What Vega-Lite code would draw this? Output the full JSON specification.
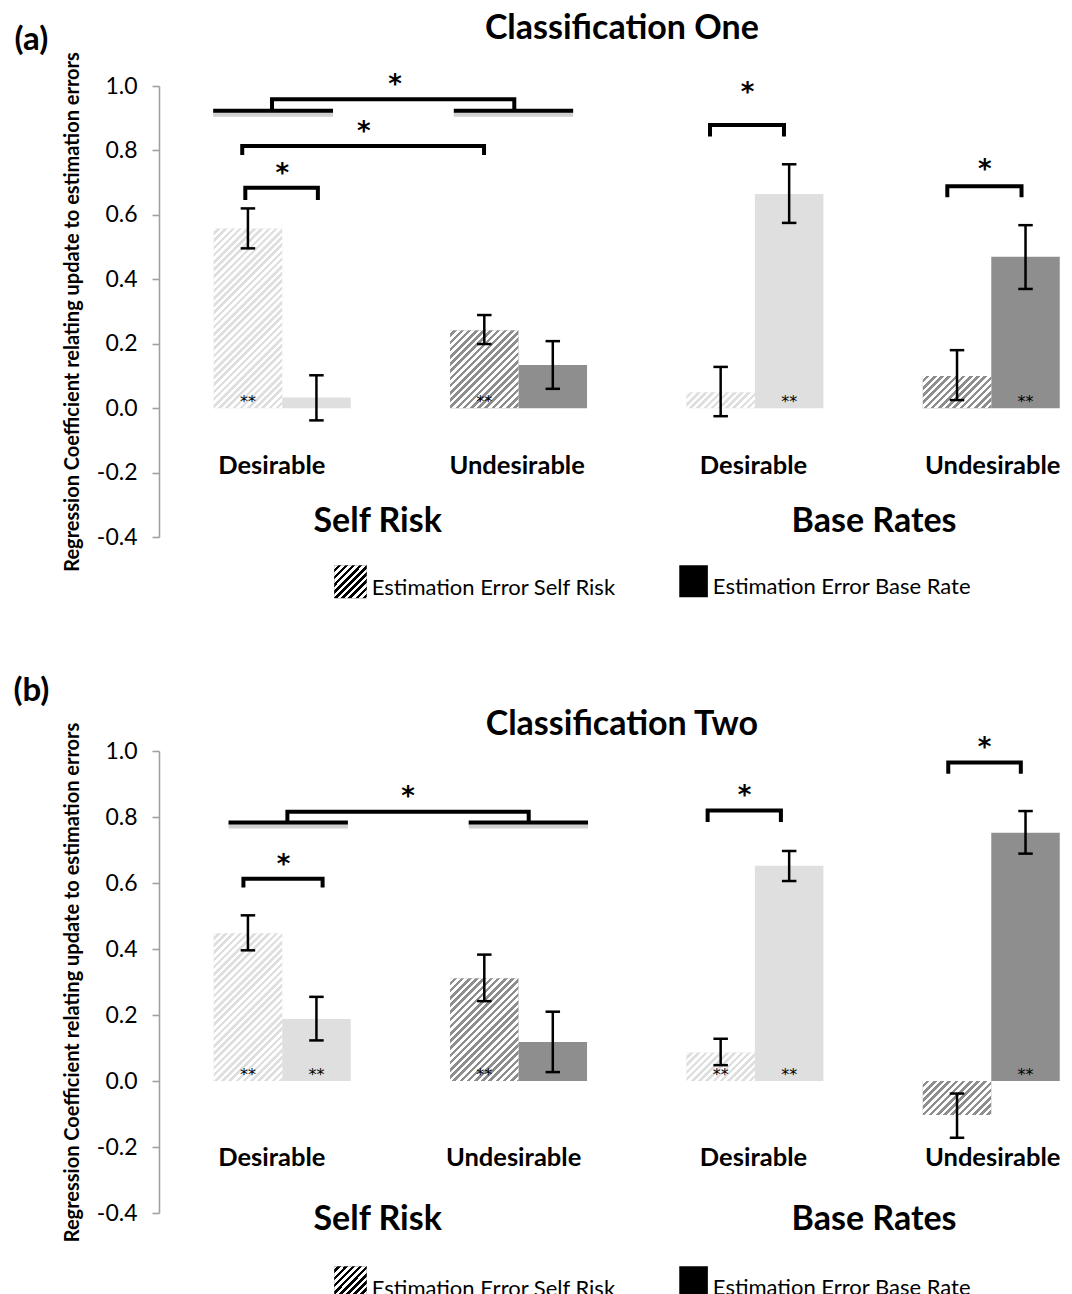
{
"$schema": "https://vega.github.io/schema/vega-lite/v6.json",
"padding": {"left": 13, "top": 11, "right": 0, "bottom": 0},
"spacing": 74,
"params": [{"name": "hatch", "value": [
{"offset":0,"color":"#fff"},{"offset":0.01,"color":"#fff"},{"offset":0.01,"color":"rgba(255,255,255,0)"},{"offset":0.02,"color":"rgba(255,255,255,0)"},
{"offset":0.02,"color":"#fff"},{"offset":0.03,"color":"#fff"},{"offset":0.03,"color":"rgba(255,255,255,0)"},{"offset":0.04,"color":"rgba(255,255,255,0)"},
{"offset":0.04,"color":"#fff"},{"offset":0.05,"color":"#fff"},{"offset":0.05,"color":"rgba(255,255,255,0)"},{"offset":0.06,"color":"rgba(255,255,255,0)"},
{"offset":0.06,"color":"#fff"},{"offset":0.07,"color":"#fff"},{"offset":0.07,"color":"rgba(255,255,255,0)"},{"offset":0.08,"color":"rgba(255,255,255,0)"},
{"offset":0.08,"color":"#fff"},{"offset":0.09,"color":"#fff"},{"offset":0.09,"color":"rgba(255,255,255,0)"},{"offset":0.1,"color":"rgba(255,255,255,0)"},
{"offset":0.1,"color":"#fff"},{"offset":0.11,"color":"#fff"},{"offset":0.11,"color":"rgba(255,255,255,0)"},{"offset":0.12,"color":"rgba(255,255,255,0)"},
{"offset":0.12,"color":"#fff"},{"offset":0.13,"color":"#fff"},{"offset":0.13,"color":"rgba(255,255,255,0)"},{"offset":0.14,"color":"rgba(255,255,255,0)"},
{"offset":0.14,"color":"#fff"},{"offset":0.15,"color":"#fff"},{"offset":0.15,"color":"rgba(255,255,255,0)"},{"offset":0.16,"color":"rgba(255,255,255,0)"},
{"offset":0.16,"color":"#fff"},{"offset":0.17,"color":"#fff"},{"offset":0.17,"color":"rgba(255,255,255,0)"},{"offset":0.18,"color":"rgba(255,255,255,0)"},
{"offset":0.18,"color":"#fff"},{"offset":0.19,"color":"#fff"},{"offset":0.19,"color":"rgba(255,255,255,0)"},{"offset":0.2,"color":"rgba(255,255,255,0)"},
{"offset":0.2,"color":"#fff"},{"offset":0.21,"color":"#fff"},{"offset":0.21,"color":"rgba(255,255,255,0)"},{"offset":0.22,"color":"rgba(255,255,255,0)"},
{"offset":0.22,"color":"#fff"},{"offset":0.23,"color":"#fff"},{"offset":0.23,"color":"rgba(255,255,255,0)"},{"offset":0.24,"color":"rgba(255,255,255,0)"},
{"offset":0.24,"color":"#fff"},{"offset":0.25,"color":"#fff"},{"offset":0.25,"color":"rgba(255,255,255,0)"},{"offset":0.26,"color":"rgba(255,255,255,0)"},
{"offset":0.26,"color":"#fff"},{"offset":0.27,"color":"#fff"},{"offset":0.27,"color":"rgba(255,255,255,0)"},{"offset":0.28,"color":"rgba(255,255,255,0)"},
{"offset":0.28,"color":"#fff"},{"offset":0.29,"color":"#fff"},{"offset":0.29,"color":"rgba(255,255,255,0)"},{"offset":0.3,"color":"rgba(255,255,255,0)"},
{"offset":0.3,"color":"#fff"},{"offset":0.31,"color":"#fff"},{"offset":0.31,"color":"rgba(255,255,255,0)"},{"offset":0.32,"color":"rgba(255,255,255,0)"},
{"offset":0.32,"color":"#fff"},{"offset":0.33,"color":"#fff"},{"offset":0.33,"color":"rgba(255,255,255,0)"},{"offset":0.34,"color":"rgba(255,255,255,0)"},
{"offset":0.34,"color":"#fff"},{"offset":0.35,"color":"#fff"},{"offset":0.35,"color":"rgba(255,255,255,0)"},{"offset":0.36,"color":"rgba(255,255,255,0)"},
{"offset":0.36,"color":"#fff"},{"offset":0.37,"color":"#fff"},{"offset":0.37,"color":"rgba(255,255,255,0)"},{"offset":0.38,"color":"rgba(255,255,255,0)"},
{"offset":0.38,"color":"#fff"},{"offset":0.39,"color":"#fff"},{"offset":0.39,"color":"rgba(255,255,255,0)"},{"offset":0.4,"color":"rgba(255,255,255,0)"},
{"offset":0.4,"color":"#fff"},{"offset":0.41,"color":"#fff"},{"offset":0.41,"color":"rgba(255,255,255,0)"},{"offset":0.42,"color":"rgba(255,255,255,0)"},
{"offset":0.42,"color":"#fff"},{"offset":0.43,"color":"#fff"},{"offset":0.43,"color":"rgba(255,255,255,0)"},{"offset":0.44,"color":"rgba(255,255,255,0)"},
{"offset":0.44,"color":"#fff"},{"offset":0.45,"color":"#fff"},{"offset":0.45,"color":"rgba(255,255,255,0)"},{"offset":0.46,"color":"rgba(255,255,255,0)"},
{"offset":0.46,"color":"#fff"},{"offset":0.47,"color":"#fff"},{"offset":0.47,"color":"rgba(255,255,255,0)"},{"offset":0.48,"color":"rgba(255,255,255,0)"},
{"offset":0.48,"color":"#fff"},{"offset":0.49,"color":"#fff"},{"offset":0.49,"color":"rgba(255,255,255,0)"},{"offset":0.5,"color":"rgba(255,255,255,0)"},
{"offset":0.5,"color":"#fff"},{"offset":0.51,"color":"#fff"},{"offset":0.51,"color":"rgba(255,255,255,0)"},{"offset":0.52,"color":"rgba(255,255,255,0)"},
{"offset":0.52,"color":"#fff"},{"offset":0.53,"color":"#fff"},{"offset":0.53,"color":"rgba(255,255,255,0)"},{"offset":0.54,"color":"rgba(255,255,255,0)"},
{"offset":0.54,"color":"#fff"},{"offset":0.55,"color":"#fff"},{"offset":0.55,"color":"rgba(255,255,255,0)"},{"offset":0.56,"color":"rgba(255,255,255,0)"},
{"offset":0.56,"color":"#fff"},{"offset":0.57,"color":"#fff"},{"offset":0.57,"color":"rgba(255,255,255,0)"},{"offset":0.58,"color":"rgba(255,255,255,0)"},
{"offset":0.58,"color":"#fff"},{"offset":0.59,"color":"#fff"},{"offset":0.59,"color":"rgba(255,255,255,0)"},{"offset":0.6,"color":"rgba(255,255,255,0)"},
{"offset":0.6,"color":"#fff"},{"offset":0.61,"color":"#fff"},{"offset":0.61,"color":"rgba(255,255,255,0)"},{"offset":0.62,"color":"rgba(255,255,255,0)"},
{"offset":0.62,"color":"#fff"},{"offset":0.63,"color":"#fff"},{"offset":0.63,"color":"rgba(255,255,255,0)"},{"offset":0.64,"color":"rgba(255,255,255,0)"},
{"offset":0.64,"color":"#fff"},{"offset":0.65,"color":"#fff"},{"offset":0.65,"color":"rgba(255,255,255,0)"},{"offset":0.66,"color":"rgba(255,255,255,0)"},
{"offset":0.66,"color":"#fff"},{"offset":0.67,"color":"#fff"},{"offset":0.67,"color":"rgba(255,255,255,0)"},{"offset":0.68,"color":"rgba(255,255,255,0)"},
{"offset":0.68,"color":"#fff"},{"offset":0.69,"color":"#fff"},{"offset":0.69,"color":"rgba(255,255,255,0)"},{"offset":0.7,"color":"rgba(255,255,255,0)"},
{"offset":0.7,"color":"#fff"},{"offset":0.71,"color":"#fff"},{"offset":0.71,"color":"rgba(255,255,255,0)"},{"offset":0.72,"color":"rgba(255,255,255,0)"},
{"offset":0.72,"color":"#fff"},{"offset":0.73,"color":"#fff"},{"offset":0.73,"color":"rgba(255,255,255,0)"},{"offset":0.74,"color":"rgba(255,255,255,0)"},
{"offset":0.74,"color":"#fff"},{"offset":0.75,"color":"#fff"},{"offset":0.75,"color":"rgba(255,255,255,0)"},{"offset":0.76,"color":"rgba(255,255,255,0)"},
{"offset":0.76,"color":"#fff"},{"offset":0.77,"color":"#fff"},{"offset":0.77,"color":"rgba(255,255,255,0)"},{"offset":0.78,"color":"rgba(255,255,255,0)"},
{"offset":0.78,"color":"#fff"},{"offset":0.79,"color":"#fff"},{"offset":0.79,"color":"rgba(255,255,255,0)"},{"offset":0.8,"color":"rgba(255,255,255,0)"},
{"offset":0.8,"color":"#fff"},{"offset":0.81,"color":"#fff"},{"offset":0.81,"color":"rgba(255,255,255,0)"},{"offset":0.82,"color":"rgba(255,255,255,0)"},
{"offset":0.82,"color":"#fff"},{"offset":0.83,"color":"#fff"},{"offset":0.83,"color":"rgba(255,255,255,0)"},{"offset":0.84,"color":"rgba(255,255,255,0)"},
{"offset":0.84,"color":"#fff"},{"offset":0.85,"color":"#fff"},{"offset":0.85,"color":"rgba(255,255,255,0)"},{"offset":0.86,"color":"rgba(255,255,255,0)"},
{"offset":0.86,"color":"#fff"},{"offset":0.87,"color":"#fff"},{"offset":0.87,"color":"rgba(255,255,255,0)"},{"offset":0.88,"color":"rgba(255,255,255,0)"},
{"offset":0.88,"color":"#fff"},{"offset":0.89,"color":"#fff"},{"offset":0.89,"color":"rgba(255,255,255,0)"},{"offset":0.9,"color":"rgba(255,255,255,0)"},
{"offset":0.9,"color":"#fff"},{"offset":0.91,"color":"#fff"},{"offset":0.91,"color":"rgba(255,255,255,0)"},{"offset":0.92,"color":"rgba(255,255,255,0)"},
{"offset":0.92,"color":"#fff"},{"offset":0.93,"color":"#fff"},{"offset":0.93,"color":"rgba(255,255,255,0)"},{"offset":0.94,"color":"rgba(255,255,255,0)"},
{"offset":0.94,"color":"#fff"},{"offset":0.95,"color":"#fff"},{"offset":0.95,"color":"rgba(255,255,255,0)"},{"offset":0.96,"color":"rgba(255,255,255,0)"},
{"offset":0.96,"color":"#fff"},{"offset":0.97,"color":"#fff"},{"offset":0.97,"color":"rgba(255,255,255,0)"},{"offset":0.98,"color":"rgba(255,255,255,0)"},
{"offset":0.98,"color":"#fff"},{"offset":0.99,"color":"#fff"},{"offset":0.99,"color":"rgba(255,255,255,0)"},{"offset":1,"color":"rgba(255,255,255,0)"}
]}],
"datasets": {
"bars": [
{"panel":"a","idx":0,"group":"Self Risk","cond":"Desirable","est":"Self Risk","value":0.558,"lo":0.496,"hi":0.62,"sig":"**"},
{"panel":"a","idx":0,"group":"Self Risk","cond":"Desirable","est":"Base Rate","value":0.033,"lo":-0.038,"hi":0.102,"sig":""},
{"panel":"a","idx":1,"group":"Self Risk","cond":"Undesirable","est":"Self Risk","value":0.242,"lo":0.199,"hi":0.289,"sig":"**"},
{"panel":"a","idx":1,"group":"Self Risk","cond":"Undesirable","est":"Base Rate","value":0.134,"lo":0.06,"hi":0.208,"sig":""},
{"panel":"a","idx":2,"group":"Base Rates","cond":"Desirable","est":"Self Risk","value":0.049,"lo":-0.025,"hi":0.128,"sig":""},
{"panel":"a","idx":2,"group":"Base Rates","cond":"Desirable","est":"Base Rate","value":0.665,"lo":0.575,"hi":0.757,"sig":"**"},
{"panel":"a","idx":3,"group":"Base Rates","cond":"Undesirable","est":"Self Risk","value":0.1,"lo":0.025,"hi":0.18,"sig":""},
{"panel":"a","idx":3,"group":"Base Rates","cond":"Undesirable","est":"Base Rate","value":0.47,"lo":0.37,"hi":0.568,"sig":"**"},
{"panel":"b","idx":0,"group":"Self Risk","cond":"Desirable","est":"Self Risk","value":0.448,"lo":0.396,"hi":0.502,"sig":"**"},
{"panel":"b","idx":0,"group":"Self Risk","cond":"Desirable","est":"Base Rate","value":0.188,"lo":0.123,"hi":0.255,"sig":"**"},
{"panel":"b","idx":1,"group":"Self Risk","cond":"Undesirable","est":"Self Risk","value":0.311,"lo":0.242,"hi":0.383,"sig":"**"},
{"panel":"b","idx":1,"group":"Self Risk","cond":"Undesirable","est":"Base Rate","value":0.118,"lo":0.027,"hi":0.21,"sig":""},
{"panel":"b","idx":2,"group":"Base Rates","cond":"Desirable","est":"Self Risk","value":0.086,"lo":0.048,"hi":0.128,"sig":"**"},
{"panel":"b","idx":2,"group":"Base Rates","cond":"Desirable","est":"Base Rate","value":0.652,"lo":0.606,"hi":0.697,"sig":"**"},
{"panel":"b","idx":3,"group":"Base Rates","cond":"Undesirable","est":"Self Risk","value":-0.103,"lo":-0.172,"hi":-0.038,"sig":""},
{"panel":"b","idx":3,"group":"Base Rates","cond":"Undesirable","est":"Base Rate","value":0.752,"lo":0.689,"hi":0.818,"sig":"**"}
],
"brackets": [
{"panel":"a","bid":"a1","ord":1,"bx":-0.043,"by":0.923},{"panel":"a","bid":"a1","ord":2,"bx":-0.043,"by":0.959},{"panel":"a","bid":"a1","ord":3,"bx":0.982,"by":0.959},{"panel":"a","bid":"a1","ord":4,"bx":0.982,"by":0.923},
{"panel":"a","bid":"a1L","ord":1,"bx":-0.292,"by":0.923},{"panel":"a","bid":"a1L","ord":2,"bx":0.215,"by":0.923},
{"panel":"a","bid":"a1R","ord":1,"bx":0.726,"by":0.923},{"panel":"a","bid":"a1R","ord":2,"bx":1.231,"by":0.923},
{"panel":"a","bid":"a2","ord":1,"bx":-0.169,"by":0.786},{"panel":"a","bid":"a2","ord":2,"bx":-0.169,"by":0.814},{"panel":"a","bid":"a2","ord":3,"bx":0.854,"by":0.814},{"panel":"a","bid":"a2","ord":4,"bx":0.854,"by":0.786},
{"panel":"a","bid":"a3","ord":1,"bx":-0.156,"by":0.646},{"panel":"a","bid":"a3","ord":2,"bx":-0.156,"by":0.684},{"panel":"a","bid":"a3","ord":3,"bx":0.151,"by":0.684},{"panel":"a","bid":"a3","ord":4,"bx":0.151,"by":0.646},
{"panel":"a","bid":"a4","ord":1,"bx":1.81,"by":0.843},{"panel":"a","bid":"a4","ord":2,"bx":1.81,"by":0.879},{"panel":"a","bid":"a4","ord":3,"bx":2.123,"by":0.879},{"panel":"a","bid":"a4","ord":4,"bx":2.123,"by":0.843},
{"panel":"a","bid":"a5","ord":1,"bx":2.814,"by":0.655},{"panel":"a","bid":"a5","ord":2,"bx":2.814,"by":0.689},{"panel":"a","bid":"a5","ord":3,"bx":3.128,"by":0.689},{"panel":"a","bid":"a5","ord":4,"bx":3.128,"by":0.655},
{"panel":"b","bid":"b1","ord":1,"bx":0.022,"by":0.783},{"panel":"b","bid":"b1","ord":2,"bx":0.022,"by":0.816},{"panel":"b","bid":"b1","ord":3,"bx":1.043,"by":0.816},{"panel":"b","bid":"b1","ord":4,"bx":1.043,"by":0.783},
{"panel":"b","bid":"b1L","ord":1,"bx":-0.227,"by":0.783},{"panel":"b","bid":"b1L","ord":2,"bx":0.278,"by":0.783},
{"panel":"b","bid":"b1R","ord":1,"bx":0.789,"by":0.783},{"panel":"b","bid":"b1R","ord":2,"bx":1.294,"by":0.783},
{"panel":"b","bid":"b2","ord":1,"bx":-0.164,"by":0.586},{"panel":"b","bid":"b2","ord":2,"bx":-0.164,"by":0.613},{"panel":"b","bid":"b2","ord":3,"bx":0.171,"by":0.613},{"panel":"b","bid":"b2","ord":4,"bx":0.171,"by":0.586},
{"panel":"b","bid":"b3","ord":1,"bx":1.8,"by":0.785},{"panel":"b","bid":"b3","ord":2,"bx":1.8,"by":0.82},{"panel":"b","bid":"b3","ord":3,"bx":2.11,"by":0.82},{"panel":"b","bid":"b3","ord":4,"bx":2.11,"by":0.785},
{"panel":"b","bid":"b4","ord":1,"bx":2.818,"by":0.931},{"panel":"b","bid":"b4","ord":2,"bx":2.818,"by":0.965},{"panel":"b","bid":"b4","ord":3,"bx":3.125,"by":0.965},{"panel":"b","bid":"b4","ord":4,"bx":3.125,"by":0.931}
],
"stars": [
{"panel":"a","sx":0.478,"sy":1.024},{"panel":"a","sx":0.345,"sy":0.879},{"panel":"a","sx":0.001,"sy":0.749},{"panel":"a","sx":1.969,"sy":1.0},{"panel":"a","sx":2.973,"sy":0.761},
{"panel":"b","sx":0.533,"sy":0.881},{"panel":"b","sx":0.006,"sy":0.677},{"panel":"b","sx":1.956,"sy":0.885},{"panel":"b","sx":2.972,"sy":1.03}
],
"labels": [
{"panel":"a","text":"Classification One","kind":"title","lx":1.437,"ly":1.177},
{"panel":"a","text":"(a)","kind":"panel","lx":-1.061,"ly":1.143},
{"panel":"a","text":"Desirable","kind":"cat","lx":-0.044,"ly":-0.18},
{"panel":"a","text":"Undesirable","kind":"cat","lx":0.994,"ly":-0.18},
{"panel":"a","text":"Desirable","kind":"cat","lx":1.994,"ly":-0.18},
{"panel":"a","text":"Undesirable","kind":"cat","lx":3.006,"ly":-0.18},
{"panel":"a","text":"Self Risk","kind":"group","lx":0.404,"ly":-0.352},
{"panel":"a","text":"Base Rates","kind":"group","lx":2.504,"ly":-0.352},
{"panel":"b","text":"Classification Two","kind":"title","lx":1.437,"ly":1.08},
{"panel":"b","text":"(b)","kind":"panel","lx":-1.061,"ly":1.182},
{"panel":"b","text":"Desirable","kind":"cat","lx":-0.044,"ly":-0.232},
{"panel":"b","text":"Undesirable","kind":"cat","lx":0.979,"ly":-0.232},
{"panel":"b","text":"Desirable","kind":"cat","lx":1.994,"ly":-0.232},
{"panel":"b","text":"Undesirable","kind":"cat","lx":3.006,"ly":-0.232},
{"panel":"b","text":"Self Risk","kind":"group","lx":0.404,"ly":-0.421},
{"panel":"b","text":"Base Rates","kind":"group","lx":2.504,"ly":-0.421}
],
"legend": [
{"panel":"a","label":"Estimation Error Self Risk","kind":"hatched","x0":0.22,"x1":0.358,"y0":-0.488,"y1":-0.59},
{"panel":"a","label":"Estimation Error Base Rate","kind":"solid","x0":1.68,"x1":1.801,"y0":-0.488,"y1":-0.587},
{"panel":"b","label":"Estimation Error Self Risk","kind":"hatched","x0":0.22,"x1":0.358,"y0":-0.561,"y1":-0.661},
{"panel":"b","label":"Estimation Error Base Rate","kind":"solid","x0":1.68,"x1":1.801,"y0":-0.561,"y1":-0.658}
]
},
"config": {
"view": {"stroke": null},
"font": "Lato",
"text": {"font": "Lato", "color": "#000"},
"rule": {"color": "#000"},
"line": {"color": "#000"}
},
"resolve": {"scale": {"x": "independent", "y": "independent", "color": "independent"}},
"vconcat": [
{
"width": 907, "height": 451,
"layer": [
{"data": {"name": "bars"}, "transform": [{"filter": "datum.panel == 'a'"}],
 "mark": {"type": "bar", "width": 68.5, "xOffset": {"expr": "datum.est == 'Self Risk' ? -34.25 : 34.25"}},
 "encoding": {
  "x": {"field": "idx", "type": "quantitative", "scale": {"domain": [-0.5, 3.295], "nice": false, "zero": false}, "axis": null},
  "y": {"field": "value", "type": "quantitative", "scale": {"domain": [-0.4, 1], "nice": false, "zero": false}, "title": "Regression Coefficient relating update to estimation errors",
   "axis": {"title": "Regression Coefficient relating update to estimation errors", "values": [-0.4, -0.2, 0, 0.2, 0.4, 0.6, 0.8, 1], "labelExpr": "replace(format(datum.value, '.1f'), '−', '-')", "grid": false, "domainColor": "#a0a0a0", "domainWidth": 1.6, "tickColor": "#a0a0a0", "tickWidth": 1.6, "tickSize": 7, "labelFont": "Lato", "labelFontSize": 23, "labelColor": "#000", "labelPadding": 15, "titleFont": "Lato", "titleFontSize": 20, "titleFontWeight": "bold", "titleColor": "#000", "titlePadding": 14}},
  "y2": {"datum": 0},
  "color": {"field": "cond", "type": "nominal", "scale": {"domain": ["Desirable", "Undesirable"], "range": ["#dfdfdf", "#8e8e8e"]}, "legend": null}
 }},
{"data": {"name": "bars"}, "transform": [{"filter": "datum.panel == 'a' && datum.est == 'Self Risk'"}],
 "mark": {"type": "bar", "width": 68.5, "xOffset": -34.25, "fill": {"expr": "{gradient: 'linear', x1: 0, y1: 0, x2: 360*68.5/(68.5*68.5 + pow(abs(datum.value)*322.1, 2)), y2: 360*abs(datum.value)*322.1/(68.5*68.5 + pow(abs(datum.value)*322.1, 2)), stops: hatch}"}},
 "encoding": {
  "x": {"field": "idx", "type": "quantitative", "scale": {"domain": [-0.5, 3.295], "nice": false, "zero": false}, "axis": null},
  "y": {"field": "value", "type": "quantitative", "scale": {"domain": [-0.4, 1], "nice": false, "zero": false}, "title": "Regression Coefficient relating update to estimation errors"},
  "y2": {"datum": 0}
 }},
{"data": {"name": "bars"}, "transform": [{"filter": "datum.panel == 'a'"}],
 "mark": {"type": "rule", "strokeWidth": 2.5, "xOffset": {"expr": "datum.est == 'Self Risk' ? -34.25 : 34.25"}},
 "encoding": {
  "x": {"field": "idx", "type": "quantitative", "scale": {"domain": [-0.5, 3.295], "nice": false, "zero": false}, "axis": null},
  "y": {"field": "lo", "type": "quantitative", "scale": {"domain": [-0.4, 1], "nice": false, "zero": false}, "title": "Regression Coefficient relating update to estimation errors"},
  "y2": {"field": "hi"}
 }},
{"data": {"name": "bars"}, "transform": [{"filter": "datum.panel == 'a'"}, {"fold": ["lo", "hi"], "as": ["end", "capv"]}],
 "mark": {"type": "rule", "strokeWidth": 2.5, "xOffset": {"expr": "datum.est == 'Self Risk' ? -41.5 : 27"}, "x2Offset": {"expr": "datum.est == 'Self Risk' ? -27 : 41.5"}},
 "encoding": {
  "x": {"field": "idx", "type": "quantitative", "scale": {"domain": [-0.5, 3.295], "nice": false, "zero": false}, "axis": null},
  "x2": {"field": "idx"},
  "y": {"field": "capv", "type": "quantitative", "scale": {"domain": [-0.4, 1], "nice": false, "zero": false}, "title": "Regression Coefficient relating update to estimation errors"}
 }},
{"data": {"name": "bars"}, "transform": [{"filter": "datum.panel == 'a' && datum.sig != ''"}],
 "mark": {"type": "text", "font": "DejaVu Sans", "fontSize": 16, "baseline": "alphabetic", "dy": -1, "xOffset": {"expr": "datum.est == 'Self Risk' ? -34.25 : 34.25"}},
 "encoding": {
  "x": {"field": "idx", "type": "quantitative", "scale": {"domain": [-0.5, 3.295], "nice": false, "zero": false}, "axis": null},
  "y": {"datum": 0, "type": "quantitative", "scale": {"domain": [-0.4, 1], "nice": false, "zero": false}, "title": "Regression Coefficient relating update to estimation errors"},
  "text": {"field": "sig"}
 }},
{"data": {"name": "brackets"}, "transform": [{"filter": "datum.panel == 'a' && (datum.bid == 'a1L' || datum.bid == 'a1R')"}],
 "mark": {"type": "line", "color": "#c4c4c4", "strokeWidth": 5, "yOffset": 3.5, "opacity": 0.8},
 "encoding": {
  "x": {"field": "bx", "type": "quantitative", "scale": {"domain": [-0.5, 3.295], "nice": false, "zero": false}, "axis": null},
  "y": {"field": "by", "type": "quantitative", "scale": {"domain": [-0.4, 1], "nice": false, "zero": false}, "title": "Regression Coefficient relating update to estimation errors"},
  "detail": {"field": "bid"}, "order": {"field": "ord"}
 }},
{"data": {"name": "brackets"}, "transform": [{"filter": "datum.panel == 'a'"}],
 "mark": {"type": "line", "color": "#000", "strokeWidth": 4, "strokeJoin": "miter", "strokeCap": "butt"},
 "encoding": {
  "x": {"field": "bx", "type": "quantitative", "scale": {"domain": [-0.5, 3.295], "nice": false, "zero": false}, "axis": null},
  "y": {"field": "by", "type": "quantitative", "scale": {"domain": [-0.4, 1], "nice": false, "zero": false}, "title": "Regression Coefficient relating update to estimation errors"},
  "detail": {"field": "bid"}, "order": {"field": "ord"}
 }},
{"data": {"name": "stars"}, "transform": [{"filter": "datum.panel == 'a'"}],
 "mark": {"type": "text", "text": "*", "font": "DejaVu Sans", "fontSize": 26, "fontWeight": "bold", "baseline": "middle", "dy": 7},
 "encoding": {
  "x": {"field": "sx", "type": "quantitative", "scale": {"domain": [-0.5, 3.295], "nice": false, "zero": false}, "axis": null},
  "y": {"field": "sy", "type": "quantitative", "scale": {"domain": [-0.4, 1], "nice": false, "zero": false}, "title": "Regression Coefficient relating update to estimation errors"}
 }},
{"data": {"name": "labels"}, "transform": [{"filter": "datum.panel == 'a'"}],
 "mark": {"type": "text", "fontWeight": "bold", "baseline": "middle", "align": "center", "fontSize": {"expr": "datum.kind == 'title' ? 34 : datum.kind == 'group' ? 34 : datum.kind == 'panel' ? 33 : 25.5"}},
 "encoding": {
  "x": {"field": "lx", "type": "quantitative", "scale": {"domain": [-0.5, 3.295], "nice": false, "zero": false}, "axis": null},
  "y": {"field": "ly", "type": "quantitative", "scale": {"domain": [-0.4, 1], "nice": false, "zero": false}, "title": "Regression Coefficient relating update to estimation errors"},
  "text": {"field": "text"}
 }},
{"data": {"name": "legend"}, "transform": [{"filter": "datum.panel == 'a'"}],
 "mark": {"type": "rect", "color": "#000"},
 "encoding": {
  "x": {"field": "x0", "type": "quantitative", "scale": {"domain": [-0.5, 3.295], "nice": false, "zero": false}, "axis": null},
  "x2": {"field": "x1"},
  "y": {"field": "y0", "type": "quantitative", "scale": {"domain": [-0.4, 1], "nice": false, "zero": false}, "title": "Regression Coefficient relating update to estimation errors"},
  "y2": {"field": "y1"}
 }},
{"data": {"name": "legend"}, "transform": [{"filter": "datum.panel == 'a' && datum.kind == 'hatched'"}],
 "mark": {"type": "rect", "fill": {"expr": "{gradient: 'linear', x1: 0, y1: 0, x2: 5.45, y2: 5.45, stops: hatch}"}},
 "encoding": {
  "x": {"field": "x0", "type": "quantitative", "scale": {"domain": [-0.5, 3.295], "nice": false, "zero": false}, "axis": null},
  "x2": {"field": "x1"},
  "y": {"field": "y0", "type": "quantitative", "scale": {"domain": [-0.4, 1], "nice": false, "zero": false}, "title": "Regression Coefficient relating update to estimation errors"},
  "y2": {"field": "y1"}
 }},
{"data": {"name": "legend"}, "transform": [{"filter": "datum.panel == 'a'"}],
 "mark": {"type": "text", "align": "left", "baseline": "alphabetic", "dx": 5, "dy": -3, "fontSize": 22},
 "encoding": {
  "x": {"field": "x1", "type": "quantitative", "scale": {"domain": [-0.5, 3.295], "nice": false, "zero": false}, "axis": null},
  "y": {"field": "y1", "type": "quantitative", "scale": {"domain": [-0.4, 1], "nice": false, "zero": false}, "title": "Regression Coefficient relating update to estimation errors"},
  "text": {"field": "label"}
 }}
]
},
{
"width": 907, "height": 462,
"layer": [
{"data": {"name": "bars"}, "transform": [{"filter": "datum.panel == 'b'"}],
 "mark": {"type": "bar", "width": 68.5, "xOffset": {"expr": "datum.est == 'Self Risk' ? -34.25 : 34.25"}},
 "encoding": {
  "x": {"field": "idx", "type": "quantitative", "scale": {"domain": [-0.5, 3.295], "nice": false, "zero": false}, "axis": null},
  "y": {"field": "value", "type": "quantitative", "scale": {"domain": [-0.4, 1], "nice": false, "zero": false}, "title": "Regression Coefficient relating update to estimation errors",
   "axis": {"title": "Regression Coefficient relating update to estimation errors", "values": [-0.4, -0.2, 0, 0.2, 0.4, 0.6, 0.8, 1], "labelExpr": "replace(format(datum.value, '.1f'), '−', '-')", "grid": false, "domainColor": "#a0a0a0", "domainWidth": 1.6, "tickColor": "#a0a0a0", "tickWidth": 1.6, "tickSize": 7, "labelFont": "Lato", "labelFontSize": 23, "labelColor": "#000", "labelPadding": 15, "titleFont": "Lato", "titleFontSize": 20, "titleFontWeight": "bold", "titleColor": "#000", "titlePadding": 14}},
  "y2": {"datum": 0},
  "color": {"field": "cond", "type": "nominal", "scale": {"domain": ["Desirable", "Undesirable"], "range": ["#dfdfdf", "#8e8e8e"]}, "legend": null}
 }},
{"data": {"name": "bars"}, "transform": [{"filter": "datum.panel == 'b' && datum.est == 'Self Risk'"}],
 "mark": {"type": "bar", "width": 68.5, "xOffset": -34.25, "fill": {"expr": "{gradient: 'linear', x1: 0, y1: 0, x2: 360*68.5/(68.5*68.5 + pow(abs(datum.value)*330, 2)), y2: 360*abs(datum.value)*330/(68.5*68.5 + pow(abs(datum.value)*330, 2)), stops: hatch}"}},
 "encoding": {
  "x": {"field": "idx", "type": "quantitative", "scale": {"domain": [-0.5, 3.295], "nice": false, "zero": false}, "axis": null},
  "y": {"field": "value", "type": "quantitative", "scale": {"domain": [-0.4, 1], "nice": false, "zero": false}, "title": "Regression Coefficient relating update to estimation errors"},
  "y2": {"datum": 0}
 }},
{"data": {"name": "bars"}, "transform": [{"filter": "datum.panel == 'b'"}],
 "mark": {"type": "rule", "strokeWidth": 2.5, "xOffset": {"expr": "datum.est == 'Self Risk' ? -34.25 : 34.25"}},
 "encoding": {
  "x": {"field": "idx", "type": "quantitative", "scale": {"domain": [-0.5, 3.295], "nice": false, "zero": false}, "axis": null},
  "y": {"field": "lo", "type": "quantitative", "scale": {"domain": [-0.4, 1], "nice": false, "zero": false}, "title": "Regression Coefficient relating update to estimation errors"},
  "y2": {"field": "hi"}
 }},
{"data": {"name": "bars"}, "transform": [{"filter": "datum.panel == 'b'"}, {"fold": ["lo", "hi"], "as": ["end", "capv"]}],
 "mark": {"type": "rule", "strokeWidth": 2.5, "xOffset": {"expr": "datum.est == 'Self Risk' ? -41.5 : 27"}, "x2Offset": {"expr": "datum.est == 'Self Risk' ? -27 : 41.5"}},
 "encoding": {
  "x": {"field": "idx", "type": "quantitative", "scale": {"domain": [-0.5, 3.295], "nice": false, "zero": false}, "axis": null},
  "x2": {"field": "idx"},
  "y": {"field": "capv", "type": "quantitative", "scale": {"domain": [-0.4, 1], "nice": false, "zero": false}, "title": "Regression Coefficient relating update to estimation errors"}
 }},
{"data": {"name": "bars"}, "transform": [{"filter": "datum.panel == 'b' && datum.sig != ''"}],
 "mark": {"type": "text", "font": "DejaVu Sans", "fontSize": 16, "baseline": "alphabetic", "dy": -1, "xOffset": {"expr": "datum.est == 'Self Risk' ? -34.25 : 34.25"}},
 "encoding": {
  "x": {"field": "idx", "type": "quantitative", "scale": {"domain": [-0.5, 3.295], "nice": false, "zero": false}, "axis": null},
  "y": {"datum": 0, "type": "quantitative", "scale": {"domain": [-0.4, 1], "nice": false, "zero": false}, "title": "Regression Coefficient relating update to estimation errors"},
  "text": {"field": "sig"}
 }},
{"data": {"name": "brackets"}, "transform": [{"filter": "datum.panel == 'b' && (datum.bid == 'b1L' || datum.bid == 'b1R')"}],
 "mark": {"type": "line", "color": "#c4c4c4", "strokeWidth": 5, "yOffset": 3.5, "opacity": 0.8},
 "encoding": {
  "x": {"field": "bx", "type": "quantitative", "scale": {"domain": [-0.5, 3.295], "nice": false, "zero": false}, "axis": null},
  "y": {"field": "by", "type": "quantitative", "scale": {"domain": [-0.4, 1], "nice": false, "zero": false}, "title": "Regression Coefficient relating update to estimation errors"},
  "detail": {"field": "bid"}, "order": {"field": "ord"}
 }},
{"data": {"name": "brackets"}, "transform": [{"filter": "datum.panel == 'b'"}],
 "mark": {"type": "line", "color": "#000", "strokeWidth": 4, "strokeJoin": "miter", "strokeCap": "butt"},
 "encoding": {
  "x": {"field": "bx", "type": "quantitative", "scale": {"domain": [-0.5, 3.295], "nice": false, "zero": false}, "axis": null},
  "y": {"field": "by", "type": "quantitative", "scale": {"domain": [-0.4, 1], "nice": false, "zero": false}, "title": "Regression Coefficient relating update to estimation errors"},
  "detail": {"field": "bid"}, "order": {"field": "ord"}
 }},
{"data": {"name": "stars"}, "transform": [{"filter": "datum.panel == 'b'"}],
 "mark": {"type": "text", "text": "*", "font": "DejaVu Sans", "fontSize": 26, "fontWeight": "bold", "baseline": "middle", "dy": 7},
 "encoding": {
  "x": {"field": "sx", "type": "quantitative", "scale": {"domain": [-0.5, 3.295], "nice": false, "zero": false}, "axis": null},
  "y": {"field": "sy", "type": "quantitative", "scale": {"domain": [-0.4, 1], "nice": false, "zero": false}, "title": "Regression Coefficient relating update to estimation errors"}
 }},
{"data": {"name": "labels"}, "transform": [{"filter": "datum.panel == 'b'"}],
 "mark": {"type": "text", "fontWeight": "bold", "baseline": "middle", "align": "center", "fontSize": {"expr": "datum.kind == 'title' ? 34 : datum.kind == 'group' ? 34 : datum.kind == 'panel' ? 33 : 25.5"}},
 "encoding": {
  "x": {"field": "lx", "type": "quantitative", "scale": {"domain": [-0.5, 3.295], "nice": false, "zero": false}, "axis": null},
  "y": {"field": "ly", "type": "quantitative", "scale": {"domain": [-0.4, 1], "nice": false, "zero": false}, "title": "Regression Coefficient relating update to estimation errors"},
  "text": {"field": "text"}
 }},
{"data": {"name": "legend"}, "transform": [{"filter": "datum.panel == 'b'"}],
 "mark": {"type": "rect", "color": "#000"},
 "encoding": {
  "x": {"field": "x0", "type": "quantitative", "scale": {"domain": [-0.5, 3.295], "nice": false, "zero": false}, "axis": null},
  "x2": {"field": "x1"},
  "y": {"field": "y0", "type": "quantitative", "scale": {"domain": [-0.4, 1], "nice": false, "zero": false}, "title": "Regression Coefficient relating update to estimation errors"},
  "y2": {"field": "y1"}
 }},
{"data": {"name": "legend"}, "transform": [{"filter": "datum.panel == 'b' && datum.kind == 'hatched'"}],
 "mark": {"type": "rect", "fill": {"expr": "{gradient: 'linear', x1: 0, y1: 0, x2: 5.45, y2: 5.45, stops: hatch}"}},
 "encoding": {
  "x": {"field": "x0", "type": "quantitative", "scale": {"domain": [-0.5, 3.295], "nice": false, "zero": false}, "axis": null},
  "x2": {"field": "x1"},
  "y": {"field": "y0", "type": "quantitative", "scale": {"domain": [-0.4, 1], "nice": false, "zero": false}, "title": "Regression Coefficient relating update to estimation errors"},
  "y2": {"field": "y1"}
 }},
{"data": {"name": "legend"}, "transform": [{"filter": "datum.panel == 'b'"}],
 "mark": {"type": "text", "align": "left", "baseline": "alphabetic", "dx": 5, "dy": -3, "fontSize": 22},
 "encoding": {
  "x": {"field": "x1", "type": "quantitative", "scale": {"domain": [-0.5, 3.295], "nice": false, "zero": false}, "axis": null},
  "y": {"field": "y1", "type": "quantitative", "scale": {"domain": [-0.4, 1], "nice": false, "zero": false}, "title": "Regression Coefficient relating update to estimation errors"},
  "text": {"field": "label"}
 }}
]
}
]
}
